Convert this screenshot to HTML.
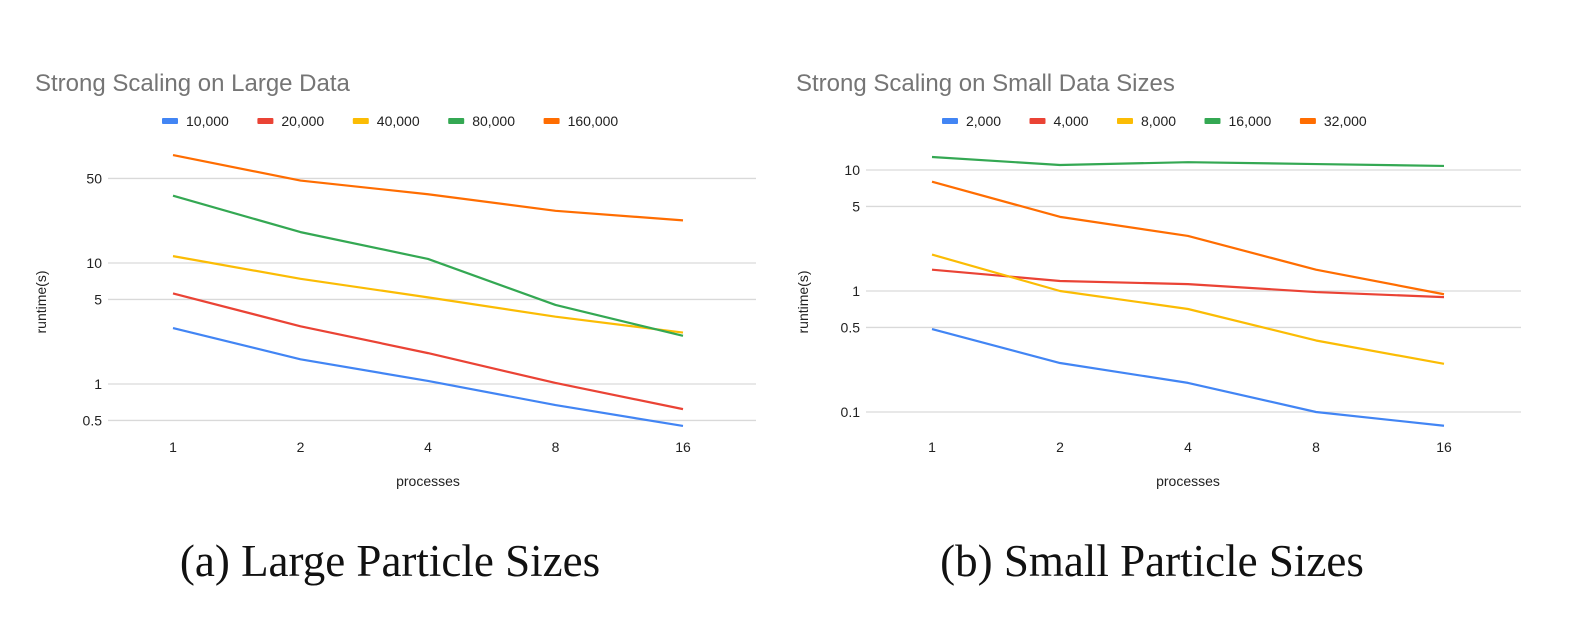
<!DOCTYPE html>
<html><head><meta charset="utf-8">
<style>
body{margin:0;background:#fff;width:1576px;height:632px;overflow:hidden;font-family:"Liberation Sans",sans-serif}
svg{position:absolute;left:0;top:0}
</style></head><body>
<svg id="chart" width="1576" height="632" xmlns="http://www.w3.org/2000/svg"></svg>
<script>
const xCats=["1","2","4","8","16"];
const leftNames=["10,000","20,000","40,000","80,000","160,000"];
const left10000=[2.9,1.6,1.06,0.67,0.45];
const left20000=[5.6,3.0,1.8,1.02,0.62];
const left40000=[11.4,7.4,5.2,3.6,2.66];
const left80000=[36,18,10.8,4.5,2.5];
const left160000=[78,48,37,27,22.5];
const leftTicks=[0.5,1,5,10,50];
const leftTickLabels=["0.5","1","5","10","50"];
const rightNames=["2,000","4,000","8,000","16,000","32,000"];
const right2000=[0.485,0.254,0.174,0.1,0.077];
const right4000=[1.5,1.21,1.14,0.98,0.89];
const right8000=[2.0,1.0,0.71,0.39,0.25];
const right16000=[12.8,11,11.6,11.2,10.8];
const right32000=[8,4.1,2.85,1.5,0.94];
const rightTicks=[0.1,0.5,1,5,10];
const rightTickLabels=["0.1","0.5","1","5","10"];
const colors=["#4285f4","#ea4335","#fbbc04","#34a853","#ff6d01"];
const svg=document.getElementById('chart');
const NS="http://www.w3.org/2000/svg";
function mk(tag,attrs,text){const e=document.createElementNS(NS,tag);for(const k in attrs)e.setAttribute(k,attrs[k]);if(text!==undefined)e.textContent=text;svg.appendChild(e);return e;}
function drawChart(cfg){
  const yS=v=>cfg.y1-cfg.ppd*Math.log10(v);
  const xS=i=>cfg.x0+i*cfg.dx;
  let t=mk('text',{x:cfg.titleX,y:91,'font-size':24,fill:'#757575'},cfg.title);
  
  cfg.ticks.forEach((v,i)=>{
    let g=mk('line',{x1:cfg.gx0,x2:cfg.gx1,y1:yS(v),y2:yS(v),stroke:'#d9d9d9','stroke-width':1.3});
    
    let l=mk('text',{x:cfg.gx0-6,y:yS(v)+5,'font-size':14,fill:'#222','text-anchor':'end'},cfg.tickLabels[i]);
    
  });
  xCats.forEach((c,i)=>{
    let l=mk('text',{x:xS(i),y:452,'font-size':14,fill:'#222','text-anchor':'middle'},c);
    
  });
  let xt=mk('text',{x:xS(2),y:486,'font-size':14,fill:'#222','text-anchor':'middle'},'processes');
  
  let yt=mk('text',{x:0,y:0,'font-size':14,fill:'#222','text-anchor':'middle',transform:`translate(${cfg.yTitleX},302) rotate(-90)`},'runtime(s)');
  
  cfg.series.forEach((s,k)=>{
    const pts=s.map((v,i)=>xS(i)+','+yS(v)).join(' ');
    let p=mk('polyline',{points:pts,fill:'none',stroke:colors[k],'stroke-width':2.2,'stroke-linejoin':'round'});
    
  });
  let lx=cfg.legX;
  cfg.names.forEach((n,k)=>{
    let r=mk('rect',{x:lx,y:118,width:16,height:6,fill:colors[k],rx:1});
    
    let tx=mk('text',{x:lx+24,y:126,'font-size':14,fill:'#222'},n);
    
    lx+=24+n.length*7.9+24;
  });
  let cap=mk('text',{x:cfg.capX,y:576,'font-size':45,fill:'#111','font-family':'"Liberation Serif",serif','text-anchor':'middle'},cfg.caption);
  
}
drawChart({id:'left',title:'Strong Scaling on Large Data',titleX:35,legX:162,x0:173,dx:127.5,y1:384,ppd:121,gx0:108,gx1:756,yTitleX:46,
  ticks:leftTicks,tickLabels:leftTickLabels,names:leftNames,series:[left10000,left20000,left40000,left80000,left160000],
  capX:390,caption:'(a) Large Particle Sizes'});
drawChart({id:'right',title:'Strong Scaling on Small Data Sizes',titleX:796,legX:942,x0:932,dx:128,y1:291,ppd:121,gx0:866,gx1:1521,yTitleX:808,
  ticks:rightTicks,tickLabels:rightTickLabels,names:rightNames,series:[right2000,right4000,right8000,right16000,right32000],
  capX:1152,caption:'(b) Small Particle Sizes'});
</script>
</body></html>
